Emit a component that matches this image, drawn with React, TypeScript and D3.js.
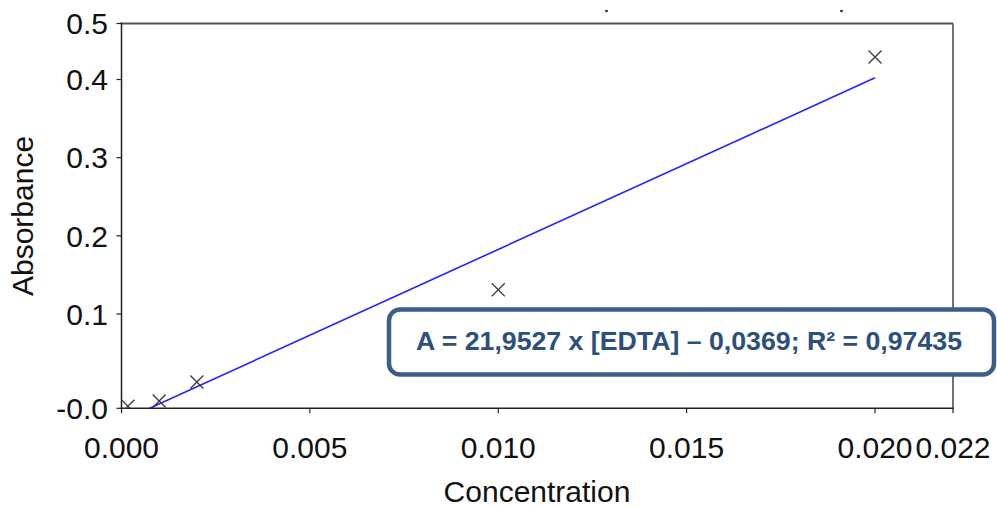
import React from "react";
import * as d3 from "d3";

const concentration = [0.00017, 0.001, 0.002, 0.01, 0.02];
const absorbance = [-0.018, -0.0113, 0.013, 0.131, 0.4288];
const fitSlope = 21.9527;
const fitIntercept = -0.0369;
const fitRange = [0, 0.02];
const xTickValues = [0, 0.005, 0.01, 0.015, 0.02, 0.02207];
const xTickLabels = ["0.000", "0.005", "0.010", "0.015", "0.020", "0.022"];
const yTickValues = [-0.0206, 0.1, 0.2, 0.3, 0.4, 0.4716];
const yTickLabels = ["-0.0", "0.1", "0.2", "0.3", "0.4", "0.5"];
const equationText = "A = 21,9527 x [EDTA] \u2013 0,0369; R\u00B2 = 0,97435";

const W = 997;
const H = 508;
const L = 121.5, T = 23.5, R = 953, B = 408.3;

export default function App() {
  const x = d3.scaleLinear().domain([0, 0.02207]).range([L, R]);
  const y = d3.scaleLinear().domain([-0.0206, 0.4716]).range([B, T]);
  const pts = concentration.map((c, i) => ({ c, a: absorbance[i] }));
  const lineGen = d3
    .line<number>()
    .x((d) => x(d))
    .y((d) => y(fitSlope * d + fitIntercept));
  const font = "'Liberation Sans', Arial, sans-serif";
  const ms = 6.5;
  const fs = 30;
  return (
    <svg
      width={W}
      height={H}
      style={{ position: "absolute", left: 0, top: 0, background: "#fff" }}
      fontFamily={font}
    >
      <defs>
        <clipPath id="plotclip">
          <rect x={L} y={T} width={R - L} height={B - T} />
        </clipPath>
      </defs>
      <rect x={0} y={0} width={W} height={H} fill="#fff" />
      {/* stray dots at top */}
      <circle cx={606.5} cy={11} r={1.3} fill="#222" />
      <circle cx={841.5} cy={11} r={1.3} fill="#222" />
      {/* frame */}
      <line x1={L} y1={T} x2={R} y2={T} stroke="#555" strokeWidth={2} />
      <line x1={R} y1={T} x2={R} y2={B} stroke="#444" strokeWidth={1.5} />
      <line x1={L} y1={T - 1} x2={L} y2={B} stroke="#222" strokeWidth={1.5} />
      <line x1={L - 0.75} y1={B} x2={R + 0.75} y2={B} stroke="#222" strokeWidth={1.5} />
      {/* y ticks */}
      {yTickValues.map((v, i) => (
        <g key={"y" + i}>
          <line x1={L - 5} x2={L} y1={y(v)} y2={y(v)} stroke="#222" strokeWidth={1.2} />
          <text
            x={108}
            y={y(v)}
            dy="0.36em"
            textAnchor="end"
            fontSize={fs}
            fill="#111"
          >
            {yTickLabels[i]}
          </text>
        </g>
      ))}
      {/* x ticks */}
      {xTickValues.map((v, i) => (
        <g key={"x" + i}>
          <line x1={x(v)} x2={x(v)} y1={B} y2={B + 5} stroke="#222" strokeWidth={1.2} />
          <text x={x(v)} y={458} textAnchor="middle" fontSize={fs} fill="#111">
            {xTickLabels[i]}
          </text>
        </g>
      ))}
      {/* axis titles */}
      <text x={537} y={502} textAnchor="middle" fontSize={fs} fill="#111">
        Concentration
      </text>
      <text
        transform={`translate(33, 216) rotate(-90)`}
        textAnchor="middle"
        fontSize={fs}
        fill="#111"
      >
        Absorbance
      </text>
      {/* fit line and markers */}
      <g clipPath="url(#plotclip)">
        <path
          d={lineGen(fitRange) || ""}
          fill="none"
          stroke="#2222ff"
          strokeWidth={1.6}
        />
        {pts.map((p, i) => (
          <g key={"m" + i} stroke="#3a3a3a" strokeWidth={1.3}>
            <line x1={x(p.c) - ms} y1={y(p.a) - ms} x2={x(p.c) + ms} y2={y(p.a) + ms} />
            <line x1={x(p.c) - ms} y1={y(p.a) + ms} x2={x(p.c) + ms} y2={y(p.a) - ms} />
          </g>
        ))}
      </g>
      {/* equation box */}
      <rect
        x={389}
        y={309.5}
        width={605}
        height={65}
        rx={11}
        ry={11}
        fill="#fff"
        stroke="#3a5e8c"
        strokeWidth={4.5}
      />
      <text
        x={689}
        y={350}
        textAnchor="middle"
        fontSize={26}
        fontWeight="bold"
        fill="#2c4f7e"
        textLength={546}
        lengthAdjust="spacingAndGlyphs"
      >
        {equationText}
      </text>
    </svg>
  );
}
